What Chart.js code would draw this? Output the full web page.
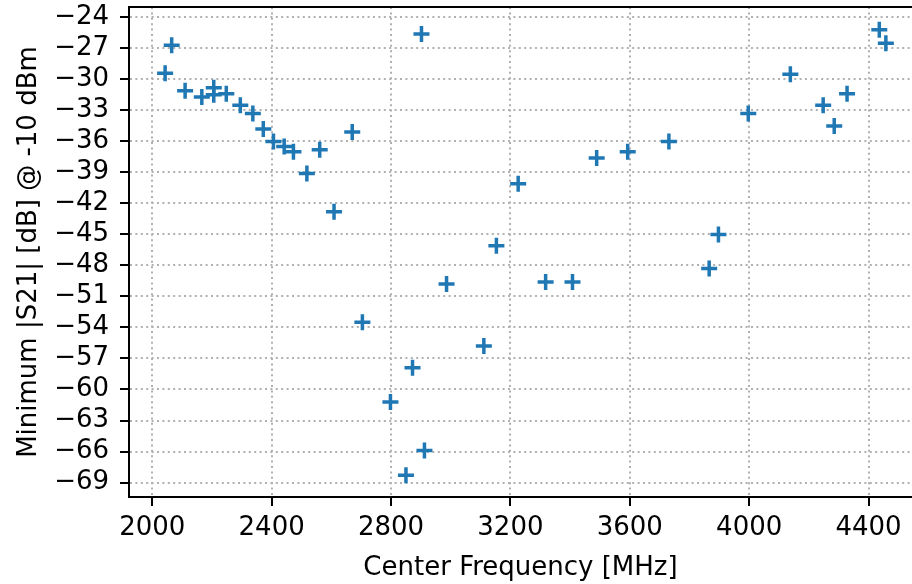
<!DOCTYPE html>
<html>
<head>
<meta charset="utf-8">
<script src="https://cdn.jsdelivr.net/npm/chart.js@4/dist/chart.umd.min.js"></script>
<style>
  html, body { margin: 0; padding: 0; background: #fff; overflow: hidden; }
  #wrap { width: 912px; height: 584px; }
</style>
</head>
<body>
<div id="wrap"><canvas id="chart" width="912" height="584"></canvas></div>
<script>
// center frequency [MHz]
const freqs = [
  2043, 2065, 2110, 2166, 2206, 2206, 2248, 2295, 2337, 2372,
  2406, 2442, 2473, 2518, 2561, 2609, 2670, 2704, 2798, 2850,
  2872, 2902, 2912, 2986, 3111, 3153, 3226, 3318, 3408, 3489,
  3593, 3731, 3866, 3897, 3997, 4138, 4248, 4285, 4328, 4436, 4458
];
// minimum |S21| [dB]
const minS21 = [
  -29.4, -26.7, -31.1, -31.7, -30.8, -31.5, -31.4, -32.5, -33.3, -34.8,
  -36.0, -36.5, -37.0, -39.1, -36.8, -42.8, -35.1, -53.5, -61.2, -68.3,
  -57.9, -25.6, -65.9, -49.8, -55.8, -46.1, -40.1, -49.6, -49.6, -37.6,
  -37.0, -36.0, -48.3, -45.0, -33.3, -29.5, -32.5, -34.5, -31.4, -25.2, -26.5
];
const xTicks = [2000, 2400, 2800, 3200, 3600, 4000, 4400];
const yTicks = [-24, -27, -30, -33, -36, -39, -42, -45, -48, -51, -54, -57, -60, -63, -66, -69];

const FONT = 'DejaVu Sans';
const BLUE = '#1f77b4';
const PLOT_TOP = 7;
const PLOT_BOTTOM = 497;
const PLOT_LEFT = 129;

// pin the plot area box (chart.js keeps extra room for edge tick labels)
const pinArea = {
  id: 'pinArea',
  afterLayout(chart) {
    const area = chart.chartArea;
    const { x, y } = chart.scales;
    area.top = PLOT_TOP;
    area.bottom = PLOT_BOTTOM;
    area.left = PLOT_LEFT;
    area.right = chart.width;
    area.height = area.bottom - area.top;
    area.width = area.right - area.left;
    y.top = PLOT_TOP;
    y.bottom = PLOT_BOTTOM;
    y.left = 0;
    y.right = PLOT_LEFT;
    y.width = PLOT_LEFT;
    y.height = y.bottom - y.top;
    y.configure();
    x.top = PLOT_BOTTOM;
    x.bottom = chart.height;
    x.height = x.bottom - x.top;
    x.left = PLOT_LEFT;
    x.right = chart.width;
    x.width = x.right - x.left;
    x.configure();
  }
};

const topBorder = {
  id: 'topBorder',
  afterDraw(chart) {
    const { ctx, chartArea } = chart;
    ctx.save();
    ctx.strokeStyle = '#000';
    ctx.lineWidth = 2;
    ctx.beginPath();
    ctx.moveTo(chartArea.left - 1, chartArea.top);
    ctx.lineTo(chartArea.right, chartArea.top);
    ctx.stroke();
    ctx.restore();
  }
};

const gridOpts = {
  color: '#b0b0b0',
  lineWidth: 2,
  tickColor: '#000',
  tickLength: 9,
  tickWidth: 2
};

new Chart(document.getElementById('chart'), {
  type: 'scatter',
  data: {
    datasets: [{
      data: freqs.map((f, i) => ({ x: f, y: minS21[i] })),
      pointStyle: 'cross',
      pointRadius: 8,
      pointHoverRadius: 8,
      borderWidth: 3.5,
      borderColor: BLUE,
      backgroundColor: BLUE
    }]
  },
  options: {
    responsive: false,
    animation: false,
    layout: { padding: { top: PLOT_TOP, right: 0, left: 0, bottom: 0 } },
    plugins: {
      legend: { display: false },
      tooltip: { enabled: false }
    },
    scales: {
      x: {
        type: 'linear',
        min: 1922,
        max: 4545.6,
        afterBuildTicks: (scale) => { scale.ticks = xTicks.map(v => ({ value: v })); },
        afterFit: (scale) => {
          scale.height = 87;
          scale.paddingLeft = 0;
          scale.paddingRight = 0;
        },
        grid: gridOpts,
        border: { display: true, color: '#000', width: 2, dash: [2, 3.4] },
        ticks: {
          color: '#000',
          font: { family: FONT, size: 26 },
          padding: 7,
          maxRotation: 0,
          autoSkip: false,
          callback: (v) => String(v)
        },
        title: {
          display: true,
          text: 'Center Frequency [MHz]',
          color: '#000',
          font: { family: FONT, size: 26 },
          padding: { bottom: 0 }
        }
      },
      y: {
        type: 'linear',
        min: -70.4,
        max: -23.0,
        afterBuildTicks: (scale) => { scale.ticks = yTicks.map(v => ({ value: v })); },
        afterFit: (scale) => {
          scale.width = PLOT_LEFT;
          scale.paddingTop = 0;
          scale.paddingBottom = 0;
        },
        grid: gridOpts,
        border: { display: true, color: '#000', width: 2, dash: [2, 3.4] },
        ticks: {
          color: '#000',
          font: { family: FONT, size: 26 },
          padding: 11,
          autoSkip: false,
          callback: (v) => (v < 0 ? '\u2212' + Math.abs(v) : String(v))
        },
        title: {
          display: true,
          text: 'Minimum |S21| [dB] @ -10 dBm',
          color: '#000',
          font: { family: FONT, size: 26 },
          padding: { top: 14 }
        }
      }
    }
  },
  plugins: [pinArea, topBorder]
});
</script>
</body>
</html>
